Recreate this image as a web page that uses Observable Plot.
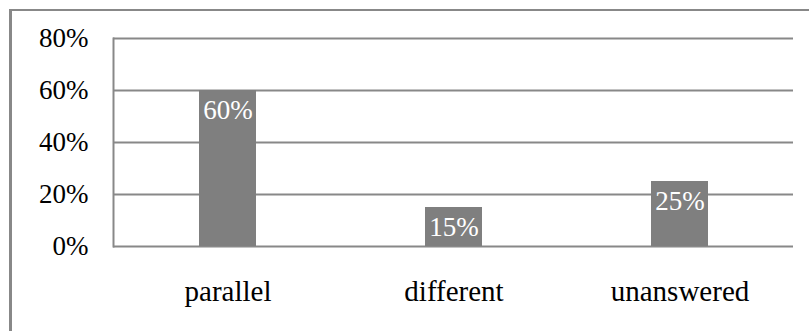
<!DOCTYPE html>
<html>
<head>
<meta charset="utf-8">
<script src="https://cdn.jsdelivr.net/npm/d3@7"></script>
<script src="https://cdn.jsdelivr.net/npm/@observablehq/plot@0.6"></script>
<style>
  html, body { margin: 0; padding: 0; background: #fff; }
  #wrap { position: relative; width: 809px; height: 331px; overflow: hidden; }
  #frame { position: absolute; left: 9px; top: 9px; width: 900px; height: 400px;
           border-top: 2px solid #888; border-left: 3px solid #888; box-sizing: border-box; }
  #chart { position: absolute; left: 0; top: 0; }
  #chart svg { font-family: "Liberation Serif", "Times New Roman", serif; }
</style>
</head>
<body>
<div id="wrap">
  <div id="frame"></div>
  <div id="chart"></div>
</div>
<script>
// Answer categories and their share of responses
const categories = ["parallel", "different", "unanswered"];
const shares = [0.60, 0.15, 0.25];
const yTicks = [0, 0.2, 0.4, 0.6, 0.8];

const rows = categories.map((c, i) => ({category: c, share: shares[i]}));
const pct = d3.format(".0%");
const fontSize = 27;
const catFontSize = 29;

const chart = Plot.plot({
  width: 809,
  height: 331,
  marginLeft: 113,
  marginRight: 16,
  marginTop: 38,
  marginBottom: 85,
  style: {fontSize: fontSize + "px", color: "#000", background: "transparent",
          fontFamily: "'Liberation Serif', 'Times New Roman', serif"},
  x: {domain: categories, paddingInner: 0.75, paddingOuter: 0.375},
  y: {domain: [0, 0.8]},
  marks: [
    Plot.gridY(yTicks, {stroke: "#888", strokeOpacity: 1, strokeWidth: 2}),
    Plot.frame({anchor: "left", stroke: "#888", strokeWidth: 2}),
    Plot.barY(rows, {x: "category", y: "share", fill: "#7f7f7f"}),
    Plot.text(rows, {x: "category", y: "share", text: d => pct(d.share),
      fill: "#fff", lineAnchor: "top", dy: 9, fontSize}),
    Plot.axisY(yTicks, {tickSize: 0, tickPadding: 25, tickFormat: pct, label: null, fontSize}),
    Plot.axisX({tickSize: 0, tickPadding: 34, label: null, fontSize: catFontSize})
  ]
});
document.getElementById("chart").appendChild(chart);
</script>
</body>
</html>
